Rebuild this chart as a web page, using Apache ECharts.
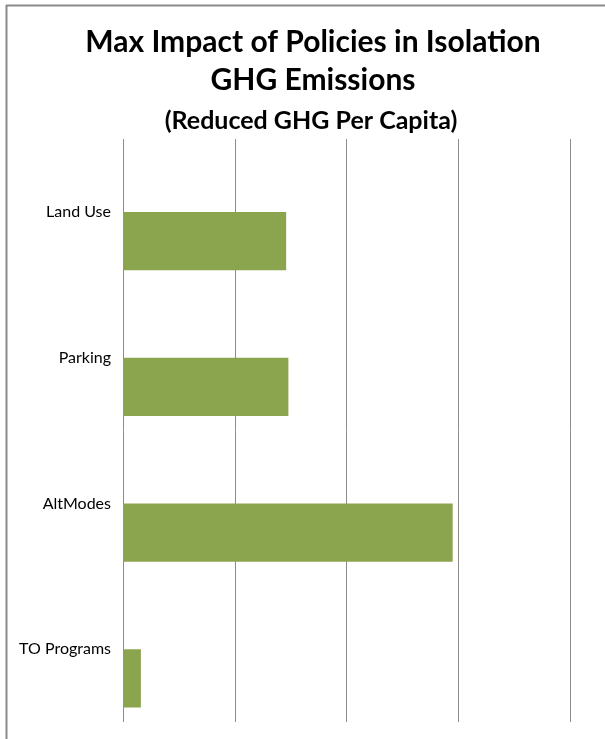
<!DOCTYPE html>
<html><head><meta charset="utf-8">
<script src="https://cdn.jsdelivr.net/npm/echarts@6/dist/echarts.min.js"></script>
<style>html,body{margin:0;padding:0;background:#fff}#c{width:605px;height:739px}</style>
</head><body><div id="c"></div>
<script>
const categories = ['Land Use', 'Parking', 'AltModes', 'TO Programs'];
const emptySeries = [0, 0, 0, 0];
const reducedGHG = [0.73, 0.74, 1.475, 0.08];
const axisMax = 2;
const axisInterval = 0.5;

const chart = echarts.init(document.getElementById('c'), null, {renderer: 'canvas'});
const font = 'Lato, "Open Sans", sans-serif';
chart.setOption({
  animation: false,
  title: [
    {text: 'Max Impact of Policies in Isolation', left: 308, textAlign: 'center', top: 22,
     textStyle: {fontFamily: font, fontWeight: 'bold', fontSize: 30, color: '#000'}},
    {text: 'GHG Emissions', left: 308, textAlign: 'center', top: 60,
     textStyle: {fontFamily: font, fontWeight: 'bold', fontSize: 30, color: '#000'}},
    {text: '(Reduced GHG Per Capita)', left: 306, textAlign: 'center', top: 103,
     textStyle: {fontFamily: font, fontWeight: 'bold', fontSize: 25, color: '#000'}}
  ],
  graphic: [
    {type: 'line', shape: {x1: 6.5, y1: 5, x2: 6.5, y2: 739}, style: {stroke: '#8a8a8a', lineWidth: 2}},
    {type: 'line', shape: {x1: 6, y1: 5.5, x2: 605, y2: 5.5}, style: {stroke: '#8a8a8a', lineWidth: 2}}
  ],
  grid: {left: 123, right: 35, top: 139, bottom: 17, containLabel: false},
  xAxis: {
    type: 'value', min: 0, max: axisMax, interval: axisInterval,
    axisLabel: {show: false}, axisLine: {show: false}, axisTick: {show: false},
    splitLine: {show: true, lineStyle: {color: '#8c8c8c', width: 1}}
  },
  yAxis: {
    type: 'category', data: categories, inverse: true,
    axisLine: {show: false}, axisTick: {show: false},
    axisLabel: {fontFamily: font, fontSize: 16, color: '#000', margin: 12}
  },
  series: [
    {type: 'bar', data: emptySeries, barGap: '0%', barCategoryGap: '20%', itemStyle: {color: '#8ba54f'}},
    {type: 'bar', data: reducedGHG, barGap: '0%', barCategoryGap: '20%', itemStyle: {color: '#8ba54f'}}
  ]
});
</script></body></html>
